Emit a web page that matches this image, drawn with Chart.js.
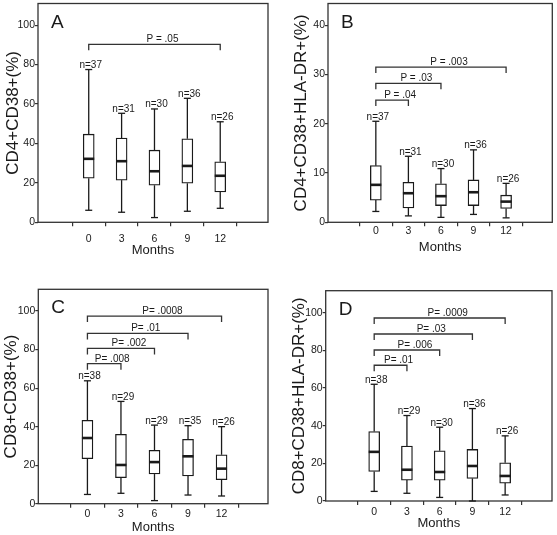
<!DOCTYPE html>
<html>
<head>
<meta charset="utf-8">
<script src="https://cdn.jsdelivr.net/npm/chart.js@4.4.0/dist/chart.umd.min.js"></script>
<style>
  body { margin: 0; background: #fff; width: 557px; height: 535px; position: relative; overflow: hidden; }
  .panel { position: absolute; }
</style>
</head>
<body>
<div class="panel" style="left:0;top:0"><canvas id="chartA" width="278" height="262"></canvas></div>
<div class="panel" style="left:278px;top:0"><canvas id="chartB" width="279" height="262"></canvas></div>
<div class="panel" style="left:0;top:265px"><canvas id="chartC" width="278" height="270"></canvas></div>
<div class="panel" style="left:278px;top:265px"><canvas id="chartD" width="279" height="270"></canvas></div>
<script>
// months of follow-up
const months = [0, 3, 6, 9, 12];

// A: CD4+CD38+ (%)
const aMin = [6.1, 5.1, 2.4, 5.6, 7.1];
const aQ1 = [22.4, 21.4, 18.8, 19.8, 15.4];
const aMed = [32.2, 31.0, 25.9, 28.6, 23.6];
const aQ3 = [44.7, 42.7, 36.6, 42.4, 30.7];
const aMax = [77.5, 55.3, 57.5, 62.9, 51.0];
const aN = [37, 31, 30, 36, 26];
const aPText = ['P = .05'];
const aPTo = [12];
const aPLevel = [90.3];

// B: CD4+CD38+HLA-DR+ (%)
const bMin = [2.2, 1.3, 1.0, 1.6, 0.9];
const bQ1 = [4.5, 2.9, 3.4, 3.4, 2.8];
const bMed = [7.6, 5.9, 5.3, 6.1, 4.2];
const bQ3 = [11.5, 8.1, 7.8, 8.6, 5.5];
const bMax = [20.5, 13.4, 10.9, 14.7, 7.9];
const bN = [37, 31, 30, 36, 26];
const bPText = ['P = .04', 'P = .03', 'P = .003'];
const bPTo = [3, 6, 12];
const bPLevel = [24.8, 28.2, 31.5];

// C: CD8+CD38+ (%)
const cMin = [4.8, 5.4, 1.6, 4.5, 4.0];
const cQ1 = [23.4, 13.5, 15.4, 14.4, 12.5];
const cMed = [34.1, 20.1, 21.6, 24.6, 18.2];
const cQ3 = [43.3, 36.0, 27.7, 33.4, 25.4];
const cMax = [63.8, 53.1, 40.8, 40.5, 40.0];
const cN = [38, 29, 29, 35, 26];
const cPText = ['P= .008', 'P= .002', 'P= .01', 'P= .0008'];
const cPTo = [3, 6, 9, 12];
const cPLevel = [72.7, 80.6, 88.4, 97.4];

// D: CD8+CD38+HLA-DR+ (%)
const dMin = [5.1, 4.1, 1.9, 0, 3.2];
const dQ1 = [15.7, 11.1, 11.1, 12.0, 9.5];
const dMed = [26.1, 16.6, 15.4, 18.6, 13.3];
const dQ3 = [36.9, 29.2, 26.7, 27.4, 20.3];
const dMax = [62.0, 45.4, 39.2, 49.1, 34.6];
const dN = [38, 29, 30, 36, 26];
const dPText = ['P= .01', 'P= .006', 'P= .03', 'P= .0009'];
const dPTo = [3, 6, 9, 12];
const dPLevel = [72.1, 80.2, 88.7, 97.2];

const sans = "'Liberation Sans', Arial, sans-serif";
const ink = '#1a1a1a';

function line(ctx, x1, y1, x2, y2) {
    ctx.beginPath();
    ctx.moveTo(x1, y1);
    ctx.lineTo(x2, y2);
    ctx.stroke();
}

function makePanel(id, p) {
    const L = p.layout;

    // whiskers, medians, n labels, P brackets, frame and panel letter
    const boxExtras = {
        id: 'boxExtras',
        afterDatasetsDraw(chart) {
            const { ctx, chartArea: a, scales: { x, y } } = chart;
            ctx.save();
            ctx.strokeStyle = '#333';
            ctx.lineWidth = 1.3;
            ctx.strokeRect(a.left, a.top, a.right - a.left, a.bottom - a.top);

            months.forEach((m, i) => {
                const px = x.getPixelForValue(m);
                const yMax = y.getPixelForValue(p.max[i]);
                const yMin = y.getPixelForValue(p.min[i]);
                ctx.strokeStyle = ink;
                ctx.lineWidth = 1.3;
                line(ctx, px, yMax, px, y.getPixelForValue(p.q3[i]));
                line(ctx, px, y.getPixelForValue(p.q1[i]), px, yMin);
                line(ctx, px - 3.5, yMax, px + 3.5, yMax);
                line(ctx, px - 3.5, yMin, px + 3.5, yMin);
                ctx.lineWidth = 2.6;
                const ym = y.getPixelForValue(p.med[i]);
                line(ctx, px - 5.5, ym, px + 5.5, ym);

                ctx.fillStyle = ink;
                ctx.font = '10px ' + sans;
                ctx.textAlign = 'center';
                ctx.textBaseline = 'alphabetic';
                ctx.fillText('n=' + p.n[i], px + 2, yMax - 1.5);
            });

            // significance brackets, all from month 0
            ctx.strokeStyle = '#333';
            ctx.lineWidth = 1.3;
            const x0 = x.getPixelForValue(months[0]);
            p.pText.forEach((t, k) => {
                const x1 = x.getPixelForValue(p.pTo[k]);
                const yl = y.getPixelForValue(p.pLevel[k]);
                ctx.beginPath();
                ctx.moveTo(x0, yl + 6);
                ctx.lineTo(x0, yl);
                ctx.lineTo(x1, yl);
                ctx.lineTo(x1, yl + 6);
                ctx.stroke();
                ctx.fillStyle = ink;
                ctx.font = '10px ' + sans;
                ctx.textAlign = 'center';
                ctx.fillText(t, (x0 + x1) / 2 + 8, yl - 2);
            });

            ctx.fillStyle = ink;
            ctx.font = '19px ' + sans;
            ctx.textAlign = 'left';
            ctx.fillText(p.letter, a.left + 13, a.top + 24);
            ctx.restore();
        }
    };

    return new Chart(document.getElementById(id), {
        type: 'bar',
        data: {
            datasets: [{
                data: months.map((m, i) => ({ x: m, y: [p.q1[i], p.q3[i]] })),
                backgroundColor: '#fff',
                borderColor: ink,
                borderWidth: 1.3,
                borderSkipped: false,
                barThickness: 11
            }]
        },
        options: {
            responsive: false,
            animation: false,
            layout: { padding: { top: L.top, right: L.right, left: 0, bottom: 0 } },
            plugins: { legend: { display: false }, tooltip: { enabled: false } },
            scales: {
                x: {
                    type: 'linear',
                    min: L.xMin,
                    max: L.xMax,
                    afterBuildTicks: s => { s.ticks = months.map(v => ({ value: v })); },
                    afterFit: s => {
                        s.height = L.xHeight;
                        s.paddingLeft = s.paddingRight = s.paddingTop = s.paddingBottom = 0;
                    },
                    grid: { drawOnChartArea: false, tickLength: 4, color: '#333', lineWidth: 1.2 },
                    border: { display: false },
                    ticks: {
                        color: ink, padding: L.xTickPad, maxRotation: 0, autoSkip: false,
                        font: { family: sans, size: 10.5, lineHeight: 1 }
                    },
                    title: {
                        display: true, text: 'Months', color: ink,
                        font: { family: sans, size: 13, lineHeight: 1 },
                        padding: { top: 0, bottom: L.xTitlePad }
                    }
                },
                y: {
                    min: 0,
                    max: p.yMax,
                    afterBuildTicks: s => {
                        s.ticks = s.ticks.filter(t => Math.abs(t.value / p.yStep - Math.round(t.value / p.yStep)) < 1e-6);
                    },
                    afterFit: s => {
                        s.width = L.yWidth;
                        s.paddingLeft = s.paddingRight = s.paddingTop = s.paddingBottom = 0;
                    },
                    grid: { drawOnChartArea: false, tickLength: 3, color: '#333', lineWidth: 1.2 },
                    border: { display: false },
                    ticks: {
                        stepSize: p.yStep, color: ink, padding: 0,
                        font: { family: sans, size: 10.5, lineHeight: 1 }
                    },
                    title: {
                        display: true, text: p.title, color: ink,
                        font: { family: sans, size: 17, lineHeight: 1 },
                        padding: { top: L.yTitlePad, bottom: 0 }
                    }
                }
            }
        },
        plugins: [boxExtras]
    });
}

makePanel('chartA', {
    letter: 'A', title: 'CD4+CD38+(%)', yMax: 111, yStep: 20,
    min: aMin, q1: aQ1, med: aMed, q3: aQ3, max: aMax, n: aN,
    pText: aPText, pTo: aPTo, pLevel: aPLevel,
    layout: { yWidth: 38, top: 3.5, right: 10, xHeight: 39.7, xTickPad: 7.5, xTitlePad: 5, yTitlePad: 4.8, xMin: -2.53, xMax: 14.26 }
});
makePanel('chartB', {
    letter: 'B', title: 'CD4+CD38+HLA-DR+(%)', yMax: 44.4, yStep: 10,
    min: bMin, q1: bQ1, med: bMed, q3: bQ3, max: bMax, n: bN,
    pText: bPText, pTo: bPTo, pLevel: bPLevel,
    layout: { yWidth: 50, top: 3.5, right: 4.7, xHeight: 39.7, xTickPad: 0, xTitlePad: 7.7, yTitlePad: 14.8, xMin: -2.34, xMax: 14.19 }
});
makePanel('chartC', {
    letter: 'C', title: 'CD8+CD38+(%)', yMax: 111.3, yStep: 20,
    min: cMin, q1: cQ1, med: cMed, q3: cQ3, max: cMax, n: cN,
    pText: cPText, pTo: cPTo, pLevel: cPLevel,
    layout: { yWidth: 38.3, top: 24.3, right: 10, xHeight: 31.3, xTickPad: 1.1, xTitlePad: 0.7, yTitlePad: 3.2, xMin: -2.34, xMax: 14.1 }
});
makePanel('chartD', {
    letter: 'D', title: 'CD8+CD38+HLA-DR+(%)', yMax: 111.7, yStep: 20,
    min: dMin, q1: dQ1, med: dMed, q3: dQ3, max: dMax, n: dN,
    pText: dPText, pTo: dPTo, pLevel: dPLevel,
    layout: { yWidth: 47.7, top: 25.7, right: 5, xHeight: 34, xTickPad: 2.2, xTitlePad: 5.3, yTitlePad: 13.2, xMin: -2.37, xMax: 14.22 }
});
</script>
</body>
</html>
